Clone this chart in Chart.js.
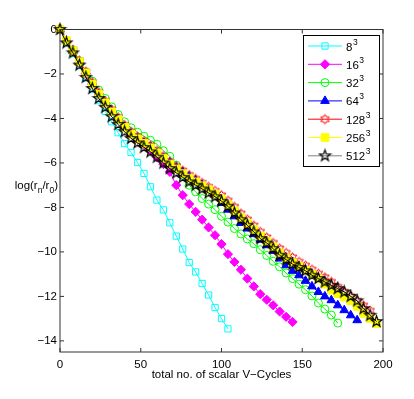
<!DOCTYPE html>
<html>
<head>
<meta charset="utf-8">
<script src="https://cdn.jsdelivr.net/npm/chart.js@4/dist/chart.umd.min.js"></script>
<style>
  html, body { margin: 0; padding: 0; background: #fff; }
  canvas { display: block; }
</style>
</head>
<body>
<canvas id="conv" width="414" height="399"></canvas>
<script>
// x positions (scalar V-cycles), shared by every run
const cycles = [0,4,8,12,16,20,24,28,32,36,40,44,48,52,56,60,64,68,72,76,80,84,88,92,96,100,
  104,108,112,116,120,124,128,132,136,140,144,148,152,156,160,164,168,172,176,180,184,188,192,196];

// log residual ratio, one array per grid size
const res8 = [0,-0.6,-1.08,-1.62,-2.18,-2.7,-3.2,-3.68,-4.15,-4.64,-5.13,-5.53,-5.98,-6.47,-7.07,
  -7.67,-8.11,-8.69,-9.29,-9.87,-10.48,-10.9,-11.42,-11.94,-12.5,-13.0,-13.46];
const res16 = [0,-0.52,-0.98,-1.48,-1.98,-2.45,-2.9,-3.3,-3.68,-4.03,-4.38,-4.68,-4.92,-5.15,-5.45,
  -5.75,-6.05,-6.4,-7.0,-7.45,-7.85,-8.2,-8.55,-8.9,-9.25,-9.65,-10.1,-10.45,-10.8,-11.2,-11.55,
  -11.9,-12.15,-12.4,-12.68,-12.92,-13.15];
const res32 = [0,-0.5,-0.92,-1.42,-1.9,-2.32,-2.72,-3.1,-3.48,-3.82,-4.15,-4.42,-4.62,-4.8,-4.98,
  -5.16,-5.45,-5.7,-6.1,-6.55,-7.0,-7.3,-7.6,-7.85,-8.1,-8.4,-8.66,-8.95,-9.19,-9.42,-9.63,-9.9,
  -10.16,-10.42,-10.67,-10.95,-11.2,-11.45,-11.7,-11.98,-12.3,-12.57,-12.84,-13.2];
const res64 = [0,-0.52,-0.98,-1.48,-1.98,-2.45,-2.9,-3.3,-3.68,-4.03,-4.38,-4.68,-4.9,-5.1,-5.3,
  -5.55,-5.8,-5.98,-6.2,-6.4,-6.6,-6.78,-6.98,-7.2,-7.45,-7.8,-8.1,-8.4,-8.7,-8.95,-9.2,-9.45,
  -9.7,-9.95,-10.3,-10.6,-10.85,-11.05,-11.3,-11.55,-11.8,-12.0,-12.17,-12.4,-12.62,-12.85,-13.07];
const res128 = [0,-0.5,-0.92,-1.4,-1.9,-2.38,-2.82,-3.22,-3.6,-3.95,-4.3,-4.6,-4.82,-5.02,-5.22,
  -5.45,-5.7,-5.95,-6.15,-6.35,-6.55,-6.72,-6.9,-7.08,-7.26,-7.46,-7.7,-7.98,-8.28,-8.55,-8.82,
  -9.1,-9.35,-9.6,-9.85,-10.05,-10.25,-10.45,-10.62,-10.8,-10.98,-11.15,-11.35,-11.58,-11.8,
  -12.0,-12.2,-12.42,-12.65];
const res256 = [0,-0.5,-0.95,-1.45,-1.95,-2.45,-2.9,-3.3,-3.7,-4.05,-4.4,-4.7,-4.92,-5.12,-5.32,
  -5.55,-5.8,-6.05,-6.27,-6.48,-6.68,-6.85,-7.02,-7.2,-7.4,-7.62,-7.88,-8.15,-8.45,-8.72,-9.0,
  -9.28,-9.52,-9.78,-10.05,-10.28,-10.48,-10.65,-10.82,-11.0,-11.2,-11.45,-11.72,-11.88,-12.02,
  -12.2,-12.45,-12.76,-13.0,-13.22];
const res512 = [0,-0.6,-1.05,-1.6,-2.15,-2.65,-3.1,-3.5,-3.92,-4.27,-4.6,-4.9,-5.1,-5.3,-5.5,
  -5.74,-6.0,-6.25,-6.45,-6.65,-6.85,-7.0,-7.17,-7.35,-7.52,-7.72,-7.95,-8.25,-8.55,-8.8,-9.1,
  -9.4,-9.6,-9.85,-10.15,-10.35,-10.55,-10.7,-10.85,-11.05,-11.2,-11.35,-11.5,-11.65,-11.8,
  -12.0,-12.2,-12.55,-12.85,-13.13];

const gridSizes = ['8', '16', '32', '64', '128', '256', '512'];
const xTicks = [0, 50, 100, 150, 200];
const yTicks = [0, -2, -4, -6, -8, -10, -12, -14];

const FONT = '"Liberation Sans", Arial, sans-serif';

// star shaped markers (chart.js has no pentagram / hexagram)
function starMarker(points, rOut, rIn, color, lw) {
  const c = document.createElement('canvas');
  const s = Math.ceil(rOut * 2 + 3);
  c.width = s; c.height = s;
  const g = c.getContext('2d');
  g.beginPath();
  for (let i = 0; i < points * 2; i++) {
    const r = i % 2 ? rIn : rOut;
    const a = -Math.PI / 2 + i * Math.PI / points;
    const px = s / 2 + r * Math.cos(a), py = s / 2 + r * Math.sin(a);
    if (i) g.lineTo(px, py); else g.moveTo(px, py);
  }
  g.closePath();
  g.strokeStyle = color;
  g.lineWidth = lw;
  g.stroke();
  return c;
}

const styles = [
  { values: res8,   color: '#00ffff', marker: 'rect',     radius: 4.4, filled: false },
  { values: res16,  color: '#ff00ff', marker: 'rectRot',  radius: 4.6, filled: true },
  { values: res32,  color: '#00ff00', marker: 'circle',   radius: 4,   filled: false },
  { values: res64,  color: '#0000ff', marker: 'triangle', radius: 5,   filled: true },
  { values: res128, color: '#ff0000', marker: starMarker(6, 4.8, 2.75, '#ff0000', 1), radius: 5, filled: false },
  { values: res256, color: '#ffff00', marker: 'rect',     radius: 5.4, filled: true },
  { values: res512, color: '#000000', marker: starMarker(5, 5.8, 2.3, '#000000', 1.2), radius: 5, filled: false, keyLine: '#808080' }
];

const datasets = styles.map((s, i) => ({
  label: gridSizes[i],
  data: s.values.map((v, k) => ({ x: cycles[k], y: v })),
  borderColor: s.color,
  borderWidth: 1,
  backgroundColor: s.color,
  pointStyle: s.marker,
  pointRadius: s.radius,
  pointBorderWidth: 1,
  pointBorderColor: s.color,
  pointBackgroundColor: s.filled ? s.color : 'rgba(0,0,0,0)',
  keyLine: s.keyLine || s.color,
  tension: 0,
  clip: false,
  order: styles.length - i
}));

const matlabLook = {
  id: 'matlabLook',
  afterDraw(chart) {
    const ctx = chart.ctx;
    const a = chart.chartArea;
    const xs = chart.scales.x, ys = chart.scales.y;
    ctx.save();
    // axes box with inward ticks
    ctx.strokeStyle = '#333';
    ctx.lineWidth = 1;
    ctx.strokeRect(a.left, a.top, a.right - a.left, a.bottom - a.top);
    ctx.beginPath();
    xTicks.forEach(v => {
      const p = xs.getPixelForValue(v);
      ctx.moveTo(p, a.bottom); ctx.lineTo(p, a.bottom - 4);
      ctx.moveTo(p, a.top); ctx.lineTo(p, a.top + 4);
    });
    yTicks.forEach(v => {
      const p = ys.getPixelForValue(v);
      ctx.moveTo(a.left, p); ctx.lineTo(a.left + 4, p);
      ctx.moveTo(a.right, p); ctx.lineTo(a.right - 4, p);
    });
    ctx.stroke();

    // horizontal y label with subscripts
    const big = '11.5px ' + FONT, small = '8.5px ' + FONT;
    const parts = [['log(r', big, 0], ['n', small, 3.5], ['/r', big, 0], ['0', small, 3.5], [')', big, 0]];
    let w = 0;
    parts.forEach(p => { ctx.font = p[1]; w += ctx.measureText(p[0]).width; });
    let tx = 58 - w;
    const by = 189;
    ctx.fillStyle = '#000';
    ctx.textBaseline = 'alphabetic';
    ctx.textAlign = 'left';
    parts.forEach(p => {
      ctx.font = p[1];
      ctx.fillText(p[0], tx, by + p[2]);
      tx += ctx.measureText(p[0]).width;
    });

    // legend
    const L = 303.5, T = 35.5, R = 379.5, B = 166.5;
    ctx.fillStyle = '#fff';
    ctx.fillRect(L, T, R - L, B - T);
    ctx.strokeStyle = '#000';
    ctx.strokeRect(L, T, R - L, B - T);
    chart.data.datasets.forEach((ds, i) => {
      const y = 46 + i * 18.3;
      ctx.strokeStyle = ds.keyLine;
      ctx.lineWidth = 1;
      ctx.beginPath();
      ctx.moveTo(308, y); ctx.lineTo(342, y);
      ctx.stroke();
      ctx.fillStyle = ds.pointBackgroundColor;
      ctx.strokeStyle = ds.pointBorderColor;
      Chart.helpers.drawPoint(ctx, {
        pointStyle: ds.pointStyle, radius: ds.pointRadius, rotation: 0, borderWidth: 1
      }, 325, y);
      ctx.fillStyle = '#000';
      ctx.font = big;
      ctx.fillText(ds.label, 346, y + 4.5);
      const nw = ctx.measureText(ds.label).width;
      ctx.font = '8.5px ' + FONT;
      ctx.fillText('3', 346 + nw + 0.5, y - 1.5);
    });
    ctx.restore();
  }
};

new Chart(document.getElementById('conv'), {
  type: 'line',
  data: { datasets },
  options: {
    responsive: false,
    animation: false,
    devicePixelRatio: 1,
    layout: { padding: { left: 0, top: 29.5, right: 31, bottom: 0 } },
    plugins: { legend: { display: false }, tooltip: { enabled: false } },
    scales: {
      x: {
        type: 'linear',
        min: 0, max: 200,
        afterFit: s => { s.height = 47; },
        afterBuildTicks: s => { s.ticks = xTicks.map(v => ({ value: v })); },
        grid: { display: false, drawTicks: false },
        border: { display: false },
        ticks: { color: '#000', padding: 6, maxRotation: 0, font: { family: FONT, size: 11.5 } },
        title: {
          display: true,
          text: 'total no. of scalar V\u2212Cycles',
          color: '#000',
          font: { family: FONT, size: 11.5 },
          padding: { top: 0, bottom: 17 }
        }
      },
      y: {
        type: 'linear',
        min: -14.5, max: 0,
        afterFit: s => { s.width = 60; },
        afterBuildTicks: s => { s.ticks = yTicks.map(v => ({ value: v })); },
        grid: { display: false, drawTicks: false },
        border: { display: false },
        ticks: {
          color: '#000', padding: 3,
          font: { family: FONT, size: 11.5 },
          callback: v => v < 0 ? '\u2212' + Math.abs(v) : String(v)
        }
      }
    }
  },
  plugins: [matlabLook]
});
</script>
</body>
</html>
